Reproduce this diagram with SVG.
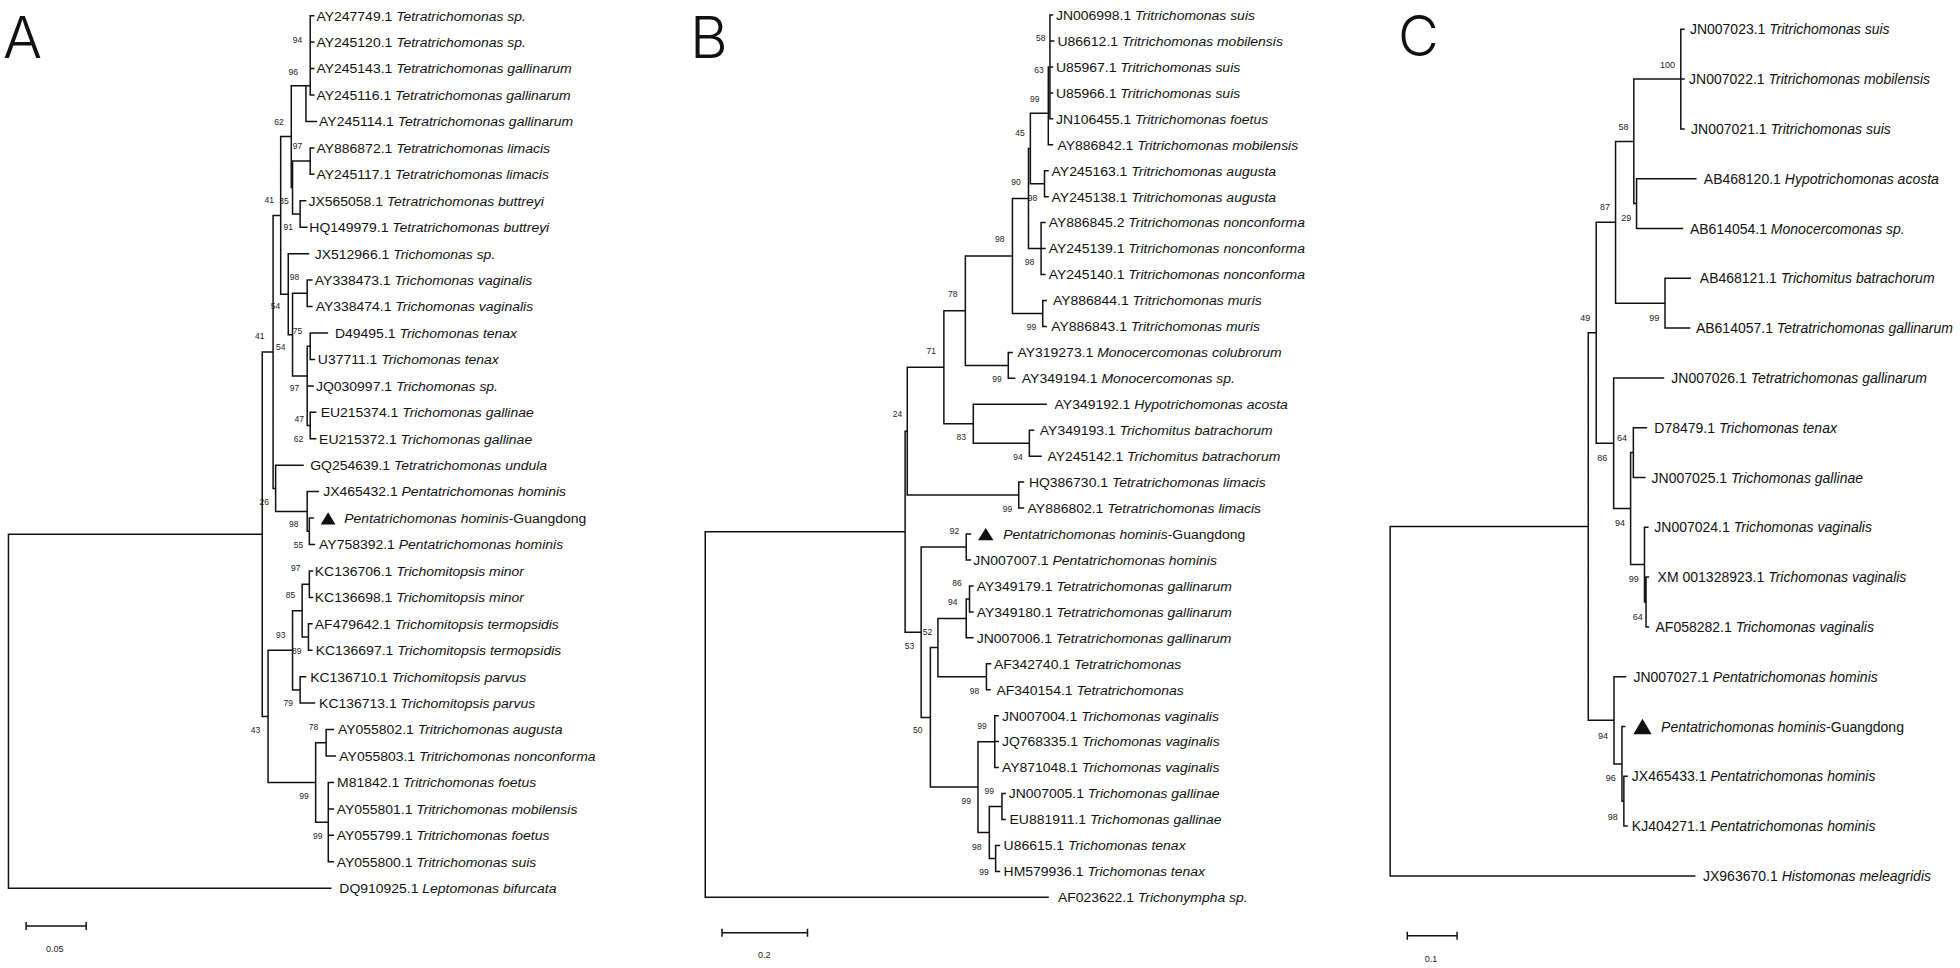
<svg xmlns="http://www.w3.org/2000/svg" width="1960" height="968" viewBox="0 0 1960 968">
<style>
.ln{fill:none;stroke:#111;stroke-width:1.5;stroke-linecap:square;vector-effect:non-scaling-stroke}
.lb{font-family:"Liberation Sans",Arial,sans-serif;font-size:13.5px;fill:#111}
.lc{font-size:14px}
.it{font-style:italic}
.bs{font-family:"Liberation Sans",Arial,sans-serif;font-size:8.5px;fill:#222;text-anchor:middle}
.bc{font-size:9px}
.big{font-family:Inter,"Noto Sans",sans-serif;font-weight:300;fill:#111}
.tri{fill:#111}
</style>
<rect width="1960" height="968" fill="#fff"/>
<text class="big" x="3" y="58" font-size="58">A</text>
<text class="big" x="690" y="58" font-size="58">B</text>
<text class="big" x="1398" y="55.5" font-size="56">C</text>

<g id="connectors">
<path id="tree-A" class="ln" transform="matrix(1.2626 0 0 1 0 0)" d="M6.7 534.2V888.2H262M6.7 534.2H207.7M207.7 351.9V716.4H212.3M207.7 351.9H216.3M216.3 215.4V488.4H218.3M216.3 215.4H222.3M222.3 136.6V294.2H228.3M222.3 136.6H230.7M230.7 85.7V187.6H231.7M230.7 85.7H245.7M245.7 15.7V95M245.7 15.7H248.5M245.7 42.1H248.5M245.7 68.6H248.5M245.7 95H248.5M242.3 85.7V121.5H250.5M231.7 161.1V214H237.7M231.7 161.1H245.7M245.7 147.9V174.3M245.7 147.9H248.5M245.7 174.3H248.5M237.7 200.8V227.2M237.7 200.8H242M237.7 227.2H243M228.3 253.7V334.7H231.7M228.3 253.7H244.3M231.7 293.3V376H243.3M231.7 293.3H243.3M243.3 280.1V306.5M243.3 280.1H247M243.3 306.5H247M243.3 346.2V425.5H245.7M243.3 346.2H245.7M243.3 385.9H248M245.7 333V359.4M245.7 333H259.3M245.7 359.4H249M245.7 412.3V438.7M245.7 412.3H250M245.7 438.7H250M218.3 465.2V511.5H243.3M218.3 465.2H240M243.3 491.6V531.3H245M243.3 491.6H252M245 518.1V544.5H249M245 518.1H248M212.3 650.3V782.5H250M212.3 650.3H231.7M231.7 610.7V689.9H237.7M231.7 610.7H239.3M239.3 584.2V637.1H244.3M239.3 584.2H245M245 570.9V597.4M245 570.9H247.5M245 597.4H247.5M244.3 623.8V650.3M244.3 623.8H247M244.3 650.3H247M237.7 676.7V703.1H249M237.7 676.7H242M250 742.8V822.2H260M250 742.8H258.3M258.3 729.6V756H265.5M258.3 729.6H264M260 782.5V861.8M260 782.5H264M260 808.9H264M260 835.3H264M260 861.8H264"/>
<path id="tree-B" class="ln" transform="matrix(1.2626 0 0 1 -178.57 0)" d="M700 531.7V897.3H971.5M700 531.7H858.3M858.3 431.2V632.2H871M858.3 431.2H860M860 367.2V495.1H948.3M860 367.2H889M948.3 482.1V508.1M948.3 482.1H952M948.3 508.1H952M889 310.7V423.8H912.3M889 310.7H906M912.3 404.3V443.2H956.7M912.3 404.3H970M956.7 430.2V456.2H966M956.7 430.2H960M906 256V365.4H940M906 256H943.3M940 352.4V378.3H945M940 352.4H943M943.3 198.5V313.5H967.3M943.3 198.5H956M967.3 300.5V326.4M967.3 300.5H970M967.3 326.4H970M956 148.5V248.6H966M956 148.5H957.5M966 222.6V274.5M966 222.6H969M966 248.6H969M966 274.5H969M957.5 113.3V183.7H968.7M957.5 113.3H971.7M968.7 170.7V196.7M968.7 170.7H971.5M968.7 196.7H971.5M971.7 66.9V144.8H975M973 15V118.8M973 15H975M973 41H976M973 66.9H975M973 92.9H975M973 118.8H975M871 547V717.4H878.3M871 547H906.7M906.7 534V560M906.7 534H910M906.7 560H910M878.3 647.6V787.1H916M878.3 647.6H884.3M884.3 618.4V676.8H922.7M884.3 618.4H906.7M906.7 598.9V637.8H912M906.7 598.9H909.3M909.3 585.9V611.9M909.3 585.9H912M909.3 611.9H912M922.7 663.8V689.7H925.5M922.7 663.8H926M916 741.7V832.5H925M916 741.7H929.3M929.3 715.7V767.6M929.3 715.7H932M929.3 741.6H932M929.3 767.6H932M925 806.5V858.4H930M925 806.5H935M935 793.5V819.5M935 793.5H937.5M935 819.5H937.5M930 845.4V871.4M930 845.4H933M930 871.4H933"/>
<path id="tree-C" class="ln" transform="matrix(1.1862 0 0 1 -249.51 0)" d="M1382.3 526.6V875.9H1639M1382.3 526.6H1549.3M1549.3 332.8V720.3H1571M1549.3 332.8H1556M1556 222.3V443.3H1570.7M1556 222.3H1572.3M1572.3 141.4V303.2H1614M1572.3 141.4H1587.7M1587.7 79.1V203.6H1590M1587.7 79.1H1627.3M1627.3 29.3V128.9M1627.3 29.3H1630M1627.3 79.1H1630M1627.3 128.9H1630M1590 178.7V228.5H1628.7M1590 178.7H1640M1614 278.3V328.1H1634.7M1614 278.3H1635.3M1570.7 377.9V508.6H1585M1570.7 377.9H1612.7M1585 452.6V564.6H1596.7M1585 452.6H1587.3M1587.3 427.7V477.5H1597M1587.3 427.7H1598.3M1596.7 527.3V601.9H1598M1596.7 527.3H1599.5M1598 577.1V626.9H1600M1598 577.1H1600M1571 676.7V763.9H1577.7M1571 676.7H1580.7M1577.7 726.5V801.2H1579.3M1577.7 726.5H1580M1579.3 776.3V826.1H1582M1579.3 776.3H1582"/>
</g>

<g id="scalebars">
<path class="ln" d="M26.1 926H86.2M26.1 922.7V929.3M86.2 922.7V929.3M722 932.7H807.5M722 929.4V936M807.5 929.4V936M1407.3 935.7H1457.1M1407.3 932.4V939M1457.1 932.4V939"/>
<text class="bs bc" x="54.7" y="952">0.05</text>
<text class="bs bc" x="764.2" y="958">0.2</text>
<text class="bs bc" x="1431" y="961.5">0.1</text>
</g>

<g id="panelA" class="lb">
<g id="A-n0"><text transform="translate(316.5 20.5) scale(1.035 1)">AY247749.1 <tspan class="it">Tetratrichomonas sp.</tspan></text></g>
<g id="A-n1"><text transform="translate(316.5 46.9) scale(1.035 1)">AY245120.1 <tspan class="it">Tetratrichomonas sp.</tspan></text></g>
<g id="A-n2"><text transform="translate(316.5 73.4) scale(1.035 1)">AY245143.1 <tspan class="it">Tetratrichomonas gallinarum</tspan></text></g>
<g id="A-n3"><text transform="translate(316.5 99.8) scale(1.035 1)">AY245116.1 <tspan class="it">Tetratrichomonas gallinarum</tspan></text></g>
<g id="A-n4"><text transform="translate(319.1 126.3) scale(1.035 1)">AY245114.1 <tspan class="it">Tetratrichomonas gallinarum</tspan></text></g>
<g id="A-n5"><text transform="translate(316.5 152.7) scale(1.035 1)">AY886872.1 <tspan class="it">Tetratrichomonas limacis</tspan></text></g>
<g id="A-n6"><text transform="translate(316.5 179.1) scale(1.035 1)">AY245117.1 <tspan class="it">Tetratrichomonas limacis</tspan></text></g>
<g id="A-n7"><text transform="translate(308.5 205.6) scale(1.035 1)">JX565058.1 <tspan class="it">Tetratrichomonas buttreyi</tspan></text></g>
<g id="A-n8"><text transform="translate(309.3 232) scale(1.035 1)">HQ149979.1 <tspan class="it">Tetratrichomonas buttreyi</tspan></text></g>
<g id="A-n9"><text transform="translate(314.8 258.5) scale(1.035 1)">JX512966.1 <tspan class="it">Trichomonas sp.</tspan></text></g>
<g id="A-n10"><text transform="translate(314.8 284.9) scale(1.035 1)">AY338473.1 <tspan class="it">Trichomonas vaginalis</tspan></text></g>
<g id="A-n11"><text transform="translate(315.7 311.3) scale(1.035 1)">AY338474.1 <tspan class="it">Trichomonas vaginalis</tspan></text></g>
<g id="A-n12"><text transform="translate(335 337.8) scale(1.035 1)">D49495.1 <tspan class="it">Trichomonas tenax</tspan></text></g>
<g id="A-n13"><text transform="translate(317.8 364.2) scale(1.035 1)">U37711.1 <tspan class="it">Trichomonas tenax</tspan></text></g>
<g id="A-n14"><text transform="translate(316 390.7) scale(1.035 1)">JQ030997.1 <tspan class="it">Trichomonas sp.</tspan></text></g>
<g id="A-n15"><text transform="translate(320.7 417.1) scale(1.035 1)">EU215374.1 <tspan class="it">Trichomonas gallinae</tspan></text></g>
<g id="A-n16"><text transform="translate(319.1 443.5) scale(1.035 1)">EU215372.1 <tspan class="it">Trichomonas gallinae</tspan></text></g>
<g id="A-n17"><text transform="translate(310.2 470) scale(1.035 1)">GQ254639.1 <tspan class="it">Tetratrichomonas undula</tspan></text></g>
<g id="A-n18"><text transform="translate(323.2 496.4) scale(1.035 1)">JX465432.1 <tspan class="it">Pentatrichomonas hominis</tspan></text></g>
<g id="A-n19"><polygon class="tri" points="320.7,524.4 328.1,512.2 335.5,524.4"/><text transform="translate(344.3 522.9) scale(1.035 1)"><tspan class="it">Pentatrichomonas hominis</tspan>-Guangdong</text></g>
<g id="A-n20"><text transform="translate(319.1 549.3) scale(1.035 1)">AY758392.1 <tspan class="it">Pentatrichomonas hominis</tspan></text></g>
<g id="A-n21"><text transform="translate(314.8 575.7) scale(1.035 1)">KC136706.1 <tspan class="it">Trichomitopsis minor</tspan></text></g>
<g id="A-n22"><text transform="translate(314.8 602.2) scale(1.035 1)">KC136698.1 <tspan class="it">Trichomitopsis minor</tspan></text></g>
<g id="A-n23"><text transform="translate(314.8 628.6) scale(1.035 1)">AF479642.1 <tspan class="it">Trichomitopsis termopsidis</tspan></text></g>
<g id="A-n24"><text transform="translate(315.7 655.1) scale(1.035 1)">KC136697.1 <tspan class="it">Trichomitopsis termopsidis</tspan></text></g>
<g id="A-n25"><text transform="translate(310.2 681.5) scale(1.035 1)">KC136710.1 <tspan class="it">Trichomitopsis parvus</tspan></text></g>
<g id="A-n26"><text transform="translate(319.1 707.9) scale(1.035 1)">KC136713.1 <tspan class="it">Trichomitopsis parvus</tspan></text></g>
<g id="A-n27"><text transform="translate(338 734.4) scale(1.035 1)">AY055802.1 <tspan class="it">Tritrichomonas augusta</tspan></text></g>
<g id="A-n28"><text transform="translate(339.3 760.8) scale(1.035 1)">AY055803.1 <tspan class="it">Tritrichomonas nonconforma</tspan></text></g>
<g id="A-n29"><text transform="translate(337.1 787.3) scale(1.035 1)">M81842.1 <tspan class="it">Tritrichomonas foetus</tspan></text></g>
<g id="A-n30"><text transform="translate(336.7 813.7) scale(1.035 1)">AY055801.1 <tspan class="it">Tritrichomonas mobilensis</tspan></text></g>
<g id="A-n31"><text transform="translate(336.7 840.1) scale(1.035 1)">AY055799.1 <tspan class="it">Tritrichomonas foetus</tspan></text></g>
<g id="A-n32"><text transform="translate(336.7 866.6) scale(1.035 1)">AY055800.1 <tspan class="it">Tritrichomonas suis</tspan></text></g>
<g id="A-n33"><text transform="translate(339.3 893) scale(1.035 1)">DQ910925.1 <tspan class="it">Leptomonas bifurcata</tspan></text></g>
</g>

<g id="bootstrap-A" class="bs">
<text x="297.6" y="43">94</text>
<text x="293.3" y="75.3">96</text>
<text x="279" y="124.7">62</text>
<text x="297.6" y="149">97</text>
<text x="269.3" y="203">41</text>
<text x="284.1" y="204">35</text>
<text x="288.3" y="230.3">91</text>
<text x="294.6" y="280">98</text>
<text x="275.6" y="309">54</text>
<text x="297.6" y="333.7">75</text>
<text x="259.7" y="338.7">41</text>
<text x="280.7" y="350">54</text>
<text x="294.6" y="391.3">97</text>
<text x="299.2" y="421.7">47</text>
<text x="298.4" y="442">62</text>
<text x="264.3" y="505.3">26</text>
<text x="293.8" y="527.3">98</text>
<text x="298.4" y="548">55</text>
<text x="295.8" y="571.3">97</text>
<text x="290.4" y="598">85</text>
<text x="280.7" y="638">93</text>
<text x="296.7" y="653.7">89</text>
<text x="288.3" y="706.3">79</text>
<text x="313.5" y="730.3">78</text>
<text x="255.4" y="733">43</text>
<text x="303.9" y="799">99</text>
<text x="317.8" y="838.7">99</text>
</g>

<g id="panelB" class="lb">
<g id="B-n0"><text transform="translate(1055.9 19.8) scale(1.035 1)">JN006998.1 <tspan class="it">Tritrichomonas suis</tspan></text></g>
<g id="B-n1"><text transform="translate(1057.5 45.8) scale(1.035 1)">U86612.1 <tspan class="it">Tritrichomonas mobilensis</tspan></text></g>
<g id="B-n2"><text transform="translate(1055.9 71.7) scale(1.035 1)">U85967.1 <tspan class="it">Tritrichomonas suis</tspan></text></g>
<g id="B-n3"><text transform="translate(1055.9 97.7) scale(1.035 1)">U85966.1 <tspan class="it">Tritrichomonas suis</tspan></text></g>
<g id="B-n4"><text transform="translate(1055.9 123.6) scale(1.035 1)">JN106455.1 <tspan class="it">Tritrichomonas foetus</tspan></text></g>
<g id="B-n5"><text transform="translate(1057.5 149.6) scale(1.035 1)">AY886842.1 <tspan class="it">Tritrichomonas mobilensis</tspan></text></g>
<g id="B-n6"><text transform="translate(1051.6 175.5) scale(1.035 1)">AY245163.1 <tspan class="it">Tritrichomonas augusta</tspan></text></g>
<g id="B-n7"><text transform="translate(1051.6 201.5) scale(1.035 1)">AY245138.1 <tspan class="it">Tritrichomonas augusta</tspan></text></g>
<g id="B-n8"><text transform="translate(1048.7 227.4) scale(1.035 1)">AY886845.2 <tspan class="it">Tritrichomonas nonconforma</tspan></text></g>
<g id="B-n9"><text transform="translate(1048.7 253.4) scale(1.035 1)">AY245139.1 <tspan class="it">Tritrichomonas nonconforma</tspan></text></g>
<g id="B-n10"><text transform="translate(1048.7 279.3) scale(1.035 1)">AY245140.1 <tspan class="it">Tritrichomonas nonconforma</tspan></text></g>
<g id="B-n11"><text transform="translate(1052.9 305.3) scale(1.035 1)">AY886844.1 <tspan class="it">Tritrichomonas muris</tspan></text></g>
<g id="B-n12"><text transform="translate(1051.2 331.2) scale(1.035 1)">AY886843.1 <tspan class="it">Tritrichomonas muris</tspan></text></g>
<g id="B-n13"><text transform="translate(1017.5 357.2) scale(1.035 1)">AY319273.1 <tspan class="it">Monocercomonas colubrorum</tspan></text></g>
<g id="B-n14"><text transform="translate(1021.8 383.1) scale(1.035 1)">AY349194.1 <tspan class="it">Monocercomonas sp.</tspan></text></g>
<g id="B-n15"><text transform="translate(1054.6 409.1) scale(1.035 1)">AY349192.1 <tspan class="it">Hypotrichomonas acosta</tspan></text></g>
<g id="B-n16"><text transform="translate(1039.8 435) scale(1.035 1)">AY349193.1 <tspan class="it">Trichomitus batrachorum</tspan></text></g>
<g id="B-n17"><text transform="translate(1047.4 461) scale(1.035 1)">AY245142.1 <tspan class="it">Trichomitus batrachorum</tspan></text></g>
<g id="B-n18"><text transform="translate(1028.9 486.9) scale(1.035 1)">HQ386730.1 <tspan class="it">Tetratrichomonas limacis</tspan></text></g>
<g id="B-n19"><text transform="translate(1027.6 512.9) scale(1.035 1)">AY886802.1 <tspan class="it">Tetratrichomonas limacis</tspan></text></g>
<g id="B-n20"><polygon class="tri" points="978,540.3 985.7,528 993.5,540.3"/><text transform="translate(1003.2 538.8) scale(1.035 1)"><tspan class="it">Pentatrichomonas hominis</tspan>-Guangdong</text></g>
<g id="B-n21"><text transform="translate(973.3 564.8) scale(1.035 1)">JN007007.1 <tspan class="it">Pentatrichomonas hominis</tspan></text></g>
<g id="B-n22"><text transform="translate(976.7 590.7) scale(1.035 1)">AY349179.1 <tspan class="it">Tetratrichomonas gallinarum</tspan></text></g>
<g id="B-n23"><text transform="translate(976.7 616.7) scale(1.035 1)">AY349180.1 <tspan class="it">Tetratrichomonas gallinarum</tspan></text></g>
<g id="B-n24"><text transform="translate(976.7 642.6) scale(1.035 1)">JN007006.1 <tspan class="it">Tetratrichomonas gallinarum</tspan></text></g>
<g id="B-n25"><text transform="translate(994 668.6) scale(1.035 1)">AF342740.1 <tspan class="it">Tetratrichomonas</tspan></text></g>
<g id="B-n26"><text transform="translate(996.5 694.5) scale(1.035 1)">AF340154.1 <tspan class="it">Tetratrichomonas</tspan></text></g>
<g id="B-n27"><text transform="translate(1002 720.5) scale(1.035 1)">JN007004.1 <tspan class="it">Trichomonas vaginalis</tspan></text></g>
<g id="B-n28"><text transform="translate(1002 746.4) scale(1.035 1)">JQ768335.1 <tspan class="it">Trichomonas vaginalis</tspan></text></g>
<g id="B-n29"><text transform="translate(1002 772.4) scale(1.035 1)">AY871048.1 <tspan class="it">Trichomonas vaginalis</tspan></text></g>
<g id="B-n30"><text transform="translate(1008.7 798.3) scale(1.035 1)">JN007005.1 <tspan class="it">Trichomonas gallinae</tspan></text></g>
<g id="B-n31"><text transform="translate(1009.5 824.3) scale(1.035 1)">EU881911.1 <tspan class="it">Trichomonas gallinae</tspan></text></g>
<g id="B-n32"><text transform="translate(1003.6 850.2) scale(1.035 1)">U86615.1 <tspan class="it">Trichomonas tenax</tspan></text></g>
<g id="B-n33"><text transform="translate(1003.6 876.2) scale(1.035 1)">HM579936.1 <tspan class="it">Trichomonas tenax</tspan></text></g>
<g id="B-n34"><text transform="translate(1057.9 902.1) scale(1.035 1)">AF023622.1 <tspan class="it">Trichonympha sp.</tspan></text></g>
</g>

<g id="bootstrap-B" class="bs">
<text x="1040.7" y="40.7">58</text>
<text x="1039" y="73">63</text>
<text x="1034.8" y="102.3">99</text>
<text x="1020" y="135.7">45</text>
<text x="1015.9" y="185.3">90</text>
<text x="1032.6" y="201.3">98</text>
<text x="999.8" y="242">98</text>
<text x="1029.4" y="265.3">98</text>
<text x="952.7" y="297">78</text>
<text x="1031.4" y="329.7">99</text>
<text x="931.3" y="353.7">71</text>
<text x="996.9" y="382.3">99</text>
<text x="897.5" y="417.3">24</text>
<text x="961.2" y="440.3">83</text>
<text x="1018" y="459.7">94</text>
<text x="1007.4" y="512.3">99</text>
<text x="954.4" y="533.7">92</text>
<text x="956.9" y="586.3">86</text>
<text x="952.7" y="604.7">94</text>
<text x="927.5" y="634.7">52</text>
<text x="909.4" y="648.7">53</text>
<text x="974.6" y="693.7">98</text>
<text x="982.1" y="729">99</text>
<text x="917.7" y="733">50</text>
<text x="989.3" y="793.7">99</text>
<text x="966.2" y="804">99</text>
<text x="976.7" y="849.7">98</text>
<text x="983.9" y="875.3">99</text>
</g>

<g id="panelC" class="lb lc">
<g id="C-n0"><text x="1689.9" y="34.3">JN007023.1 <tspan class="it">Tritrichomonas suis</tspan></text></g>
<g id="C-n1"><text x="1689.1" y="84.1">JN007022.1 <tspan class="it">Tritrichomonas mobilensis</tspan></text></g>
<g id="C-n2"><text x="1691.1" y="133.9">JN007021.1 <tspan class="it">Tritrichomonas suis</tspan></text></g>
<g id="C-n3"><text x="1703.8" y="183.7">AB468120.1 <tspan class="it">Hypotrichomonas acosta</tspan></text></g>
<g id="C-n4"><text x="1689.9" y="233.5">AB614054.1 <tspan class="it">Monocercomonas sp.</tspan></text></g>
<g id="C-n5"><text x="1699.8" y="283.3">AB468121.1 <tspan class="it">Trichomitus batrachorum</tspan></text></g>
<g id="C-n6"><text x="1695.9" y="333.1">AB614057.1 <tspan class="it">Tetratrichomonas gallinarum</tspan></text></g>
<g id="C-n7"><text x="1671.3" y="382.9">JN007026.1 <tspan class="it">Tetratrichomonas gallinarum</tspan></text></g>
<g id="C-n8"><text x="1654.3" y="432.7">D78479.1 <tspan class="it">Trichomonas tenax</tspan></text></g>
<g id="C-n9"><text x="1651.6" y="482.5">JN007025.1 <tspan class="it">Trichomonas gallinae</tspan></text></g>
<g id="C-n10"><text x="1654.3" y="532.3">JN007024.1 <tspan class="it">Trichomonas vaginalis</tspan></text></g>
<g id="C-n11"><text x="1657.6" y="582.1">XM 001328923.1 <tspan class="it">Trichomonas vaginalis</tspan></text></g>
<g id="C-n12"><text x="1655.5" y="631.9">AF058282.1 <tspan class="it">Trichomonas vaginalis</tspan></text></g>
<g id="C-n13"><text x="1633.4" y="681.7">JN007027.1 <tspan class="it">Pentatrichomonas hominis</tspan></text></g>
<g id="C-n14"><polygon class="tri" points="1633.4,734.3 1642.5,718.7 1651.6,734.3"/><text x="1661.1" y="731.5"><tspan class="it">Pentatrichomonas hominis</tspan>-Guangdong</text></g>
<g id="C-n15"><text x="1631.8" y="781.3">JX465433.1 <tspan class="it">Pentatrichomonas hominis</tspan></text></g>
<g id="C-n16"><text x="1631.8" y="831.1">KJ404271.1 <tspan class="it">Pentatrichomonas hominis</tspan></text></g>
<g id="C-n17"><text x="1703" y="880.9">JX963670.1 <tspan class="it">Histomonas meleagridis</tspan></text></g>
</g>

<g id="bootstrap-C" class="bs bc">
<text x="1667.4" y="68.2">100</text>
<text x="1623.5" y="130.4">58</text>
<text x="1604.9" y="210.4">87</text>
<text x="1626.2" y="221.4">29</text>
<text x="1585.2" y="321.4">49</text>
<text x="1654.3" y="321.4">99</text>
<text x="1622" y="441.4">64</text>
<text x="1602.2" y="460.8">86</text>
<text x="1619.9" y="525.8">94</text>
<text x="1633.8" y="582.1">99</text>
<text x="1637.7" y="619.8">64</text>
<text x="1603" y="738.8">94</text>
<text x="1610.8" y="781.4">96</text>
<text x="1612.8" y="819.8">98</text>
</g>
</svg>
